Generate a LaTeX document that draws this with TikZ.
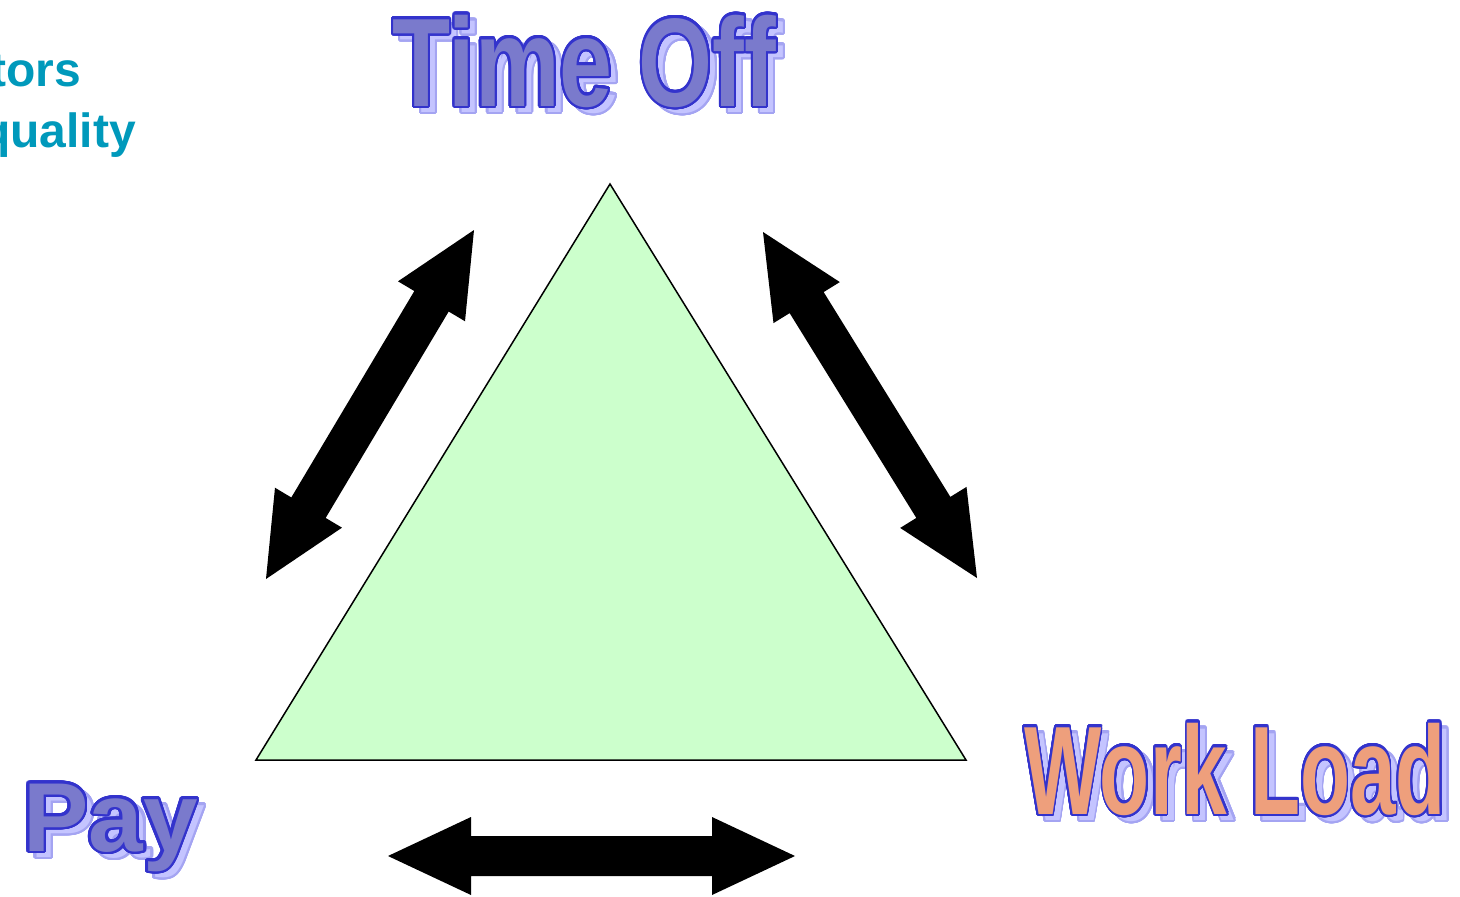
\documentclass[tikz,border=0pt]{standalone}
\usepackage{fontspec}
\setmainfont{Liberation Sans}
\usepackage{contour}
\contourlength{2.7pt}
\contournumber{32}
\usetikzlibrary{calc}
\definecolor{triFill}{HTML}{CCFFCC}
\definecolor{wLine}{HTML}{3333CC}
\definecolor{wBlue}{HTML}{7A7ACC}
\definecolor{wOrange}{HTML}{EE9F7C}
\definecolor{wShadow}{HTML}{C4C4FF}
\definecolor{wShadowLine}{HTML}{A4A4F2}
\definecolor{cyanText}{HTML}{0099BB}
\newcommand\artmain[2]{\textcolor{#1}{\contour{wLine}{#2}}}
\newcommand\artshadow[1]{\textcolor{wShadow}{\contour{wShadowLine}{#1}}}
\newcommand\barrow[2]{%
  \fill[arrowfill] (#1)
  -- ($(#1)!83pt!(#2)!39pt!90:(#2)$)
  -- ($(#1)!83pt!(#2)!20pt!90:(#2)$)
  -- ($(#2)!83pt!(#1)!20pt!-90:(#1)$)
  -- ($(#2)!83pt!(#1)!39pt!-90:(#1)$)
  -- (#2)
  -- ($(#2)!83pt!(#1)!39pt!90:(#1)$)
  -- ($(#2)!83pt!(#1)!20pt!90:(#1)$)
  -- ($(#1)!83pt!(#2)!20pt!-90:(#2)$)
  -- ($(#1)!83pt!(#2)!39pt!-90:(#2)$)
  -- cycle;}
\tikzset{
  wart/.style={anchor=base west, inner sep=0pt, font=\bfseries},
  arrowfill/.style={fill=black},
  tri/.style={draw=black, line width=1.5pt, fill=triFill, line join=miter},
  cyantxt/.style={anchor=base east, inner sep=0pt, text=cyanText,
    font=\bfseries\fontsize{48}{48}\selectfont},
}
\begin{document}
\begin{tikzpicture}[x=1pt, y=-1pt]
\useasboundingbox (0,0) rectangle (1460,897);
% triangle
\coordinate (apex) at (610,184);
\coordinate (bl) at (256,760);
\coordinate (br) at (966,760);
\draw[tri] (apex) -- (br) -- (bl) -- cycle;
% block arrows
\coordinate (la) at (474,230);
\coordinate (lb) at (266,579);
\coordinate (ra) at (763,232);
\coordinate (rb) at (977,578);
\coordinate (ba) at (388,856);
\coordinate (bb) at (795,856);
\barrow{la}{lb}
\barrow{ra}{rb}
\barrow{ba}{bb}
% cut-off text
\node[cyantxt] (tors) at (81,86) {tors};
\node[cyantxt] (quality) at (136,147) {quality};
% word art labels
\node[wart, xscale=0.755, font=\bfseries\fontsize{126}{126}\selectfont] (timeoffsh) at (399,112) {\artshadow{Time Off}};
\node[wart, xscale=0.755, font=\bfseries\fontsize{126}{126}\selectfont] (timeoff) at (392,106) {\artmain{wBlue}{Time Off}};
\node[wart, xscale=1.0, font=\bfseries\fontsize{98}{98}\selectfont] (paysh) at (30,857) {\artshadow{Pay}};
\node[wart, xscale=1.0, font=\bfseries\fontsize{98}{98}\selectfont] (pay) at (23,851) {\artmain{wBlue}{Pay}};
\node[wart, xscale=0.65, font=\bfseries\fontsize{126}{126}\selectfont] (workloadsh) at (1031,820) {\artshadow{Work Load}};
\node[wart, xscale=0.65, font=\bfseries\fontsize{126}{126}\selectfont] (workload) at (1024,814) {\artmain{wOrange}{Work Load}};
\end{tikzpicture}
\end{document}
